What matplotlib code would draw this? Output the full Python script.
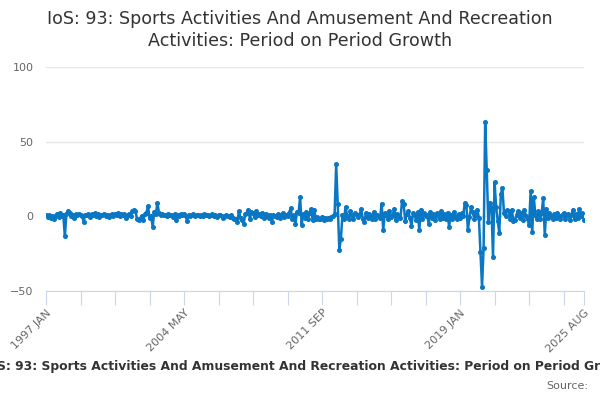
import matplotlib
matplotlib.use("Agg")
import matplotlib.pyplot as plt
import numpy as np
import pandas as pd

# Monthly period-on-period growth (%), 1997 JAN .. 2025 AUG
y1997 = [1.0, -0.5, 0.8, -1.2, 0.5, -1.5, 0.3, 1.8, -0.6, 2.5, 0.4, 1.2]
y1998 = [-13.5, 1.5, 3.5, 2.0, 0.5, 1.2, -0.8, 1.5, 0.6, 1.8, 0.9, 0.2]
y1999 = [-3.5, 1.0, 0.8, 1.6, -0.5, 1.4, 0.7, 2.0, 0.3, 1.5, -0.4, 1.1]
y2000 = [0.6, 1.8, 0.2, 1.2, -0.3, 0.9, 1.4, 0.5, 1.7, 0.8, 1.9, 0.4]
y2001 = [1.3, 0.6, 1.6, -0.8, 0.9, 1.5, 0.2, 3.5, 4.5, 3.8, -1.8, -2.5]
y2002 = [-1.5, 0.5, -2.5, 1.5, 2.0, 7.0, -1.0, 0.5, -7.0, 3.0, 1.5, 9.0]
y2003 = [2.5, 1.0, 1.8, 0.6, 1.2, 0.3, 1.5, 0.8, 1.1, -0.4, 1.6, -2.2]
y2004 = [1.0, 0.4, 1.3, 0.6, 1.8, 0.2, -3.0, 1.2, 0.5, 0.9, 1.5, 0.3]
y2005 = [0.8, 1.2, 0.1, 0.9, 0.4, 1.3, 0.6, 1.0, 0.2, 0.8, 1.4, 0.5]
y2006 = [0.9, -0.3, 0.7, 1.2, 0.5, -0.8, 0.3, 1.0, 0.2, -0.5, 0.6, -1.0]
y2007 = [-2.0, -1.5, -3.5, 3.5, -1.0, -2.5, -5.0, 1.5, 2.0, 4.5, -1.5, 3.0]
y2008 = [2.0, -0.5, 3.5, 0.8, 1.5, 0.2, 2.5, -1.0, 1.8, 0.5, -0.8, 1.2]
y2009 = [-3.5, 1.0, 0.5, -0.5, 1.5, -1.0, 0.8, 2.0, -0.3, 1.2, 0.4, 2.5]
y2010 = [5.5, -2.0, 1.0, -5.0, 3.0, 2.0, 13.0, -5.5, 1.5, -1.0, 3.0, -1.5]
y2011 = [2.0, 5.0, -2.5, 4.5, -1.5, -0.5, -2.0, -1.5, -0.5, -2.5, -1.0, -1.8]
y2012 = [-1.0, -2.0, -0.5, 0.5, 1.5, 35.0, 8.0, -22.5, -15.0, 1.0, -1.5, 6.0]
y2013 = [0.5, -2.0, 3.5, 1.0, -1.5, 2.0, 0.8, -0.5, 1.5, 5.0, -2.0, -4.0]
y2014 = [2.5, -1.0, 1.5, 0.3, -2.0, 3.0, -1.5, 1.0, 0.5, -1.0, 8.5, -9.0]
y2015 = [2.0, 1.0, -1.5, 3.5, -0.5, 1.0, 5.0, -2.5, 1.5, 0.5, -1.0, 10.0]
y2016 = [8.5, -3.0, 1.5, 3.5, -1.0, -6.5, 2.0, 1.0, -2.5, 3.0, -9.0, 4.5]
y2017 = [-1.5, 2.5, 0.5, 1.0, -5.0, 3.0, -1.0, 1.5, -2.5, 2.0, 0.5, -1.5]
y2018 = [3.5, -1.0, 1.5, -2.0, 2.5, -7.0, 1.0, -1.5, 3.0, 0.5, -2.0, 1.5]
y2019 = [-1.0, 2.0, 0.5, 9.0, 7.5, -9.0, -0.5, 6.0, 3.0, -1.5, 1.0, 4.5]
y2020 = [-1.0, -24.0, -47.0, -21.0, 63.0, 31.0, -4.0, 9.0, 6.0, -27.0, 23.0, 6.0]
y2021 = [-3.0, -11.0, 15.0, 19.0, 2.0, 0.5, 4.0, 3.5, -1.5, 4.5, -3.0, -2.5]
y2022 = [1.0, 3.5, -1.0, 2.0, -2.5, 4.0, 0.5, -1.5, -6.0, 17.0, -10.5, 13.0]
y2023 = [1.0, -2.0, 3.5, -1.5, 2.0, 12.0, -12.5, 5.0, -1.0, 2.5, 0.5, -1.5]
y2024 = [1.5, -1.0, 2.5, 0.5, -1.5, 1.0, 2.0, -2.0, 0.8, 1.5, -2.5, 1.0]
y2025 = [4.5, -2.0, 1.5, -1.0, 5.0, 0.5, 2.0, -2.5]

growth = (y1997 + y1998 + y1999 + y2000 + y2001 + y2002 + y2003 + y2004
          + y2005 + y2006 + y2007 + y2008 + y2009 + y2010 + y2011 + y2012
          + y2013 + y2014 + y2015 + y2016 + y2017 + y2018 + y2019 + y2020
          + y2021 + y2022 + y2023 + y2024 + y2025)

dates = pd.date_range("1997-01-01", periods=len(growth), freq="MS")
labels = [d.strftime("%Y %b").upper() for d in dates]
x = np.arange(len(growth))

title = "IoS: 93: Sports Activities And Amusement And Recreation Activities: Period on Period Growth"

fig = plt.figure(figsize=(6, 4), dpi=100)
ax = fig.add_axes([0.0767, 0.2725, 0.8966, 0.56])

ax.plot(x, growth, color="#0a77c4", linewidth=1.8, marker="o", markersize=2.6, zorder=3)

# axes styling
ax.set_ylim(-50, 100)
ax.set_yticks([-50, 0, 50, 100])
ax.set_xlim(0, len(growth) - 1)
ax.grid(axis="y", color="#e6e6e6", linewidth=1)
ax.set_axisbelow(True)
for s in ["left", "right", "top"]:
    ax.spines[s].set_visible(False)
ax.spines["bottom"].set_color("#ccd6eb")
ax.tick_params(axis="y", length=0, labelsize=8, labelcolor="#666666", pad=9)

tick_pos = list(range(0, len(growth) - 1, 22)) + [len(growth) - 1]
tick_lab = [labels[p] if (i % 4 == 0 or p == len(growth) - 1) else "" for i, p in enumerate(tick_pos)]
ax.set_xticks(tick_pos)
ax.set_xticklabels(tick_lab, rotation=45, ha="right", rotation_mode="anchor")
ax.tick_params(axis="x", length=10, color="#ccd6eb", labelsize=8, labelcolor="#666666", pad=2)

# title and caption (caption runs past the edges, as in the original)
fig.text(0.5, 0.975, "IoS: 93: Sports Activities And Amusement And Recreation\nActivities: Period on Period Growth",
         ha="center", va="top", fontsize=12.6, color="#333333", linespacing=1.25)
fig.text(0.516, 0.083, title, ha="center", va="center", fontsize=8.9, fontweight="bold", color="#333333")
fig.text(0.98, 0.035, "Source:", ha="right", va="center", fontsize=8, color="#666666")

fig.savefig("out.png", dpi=100)
